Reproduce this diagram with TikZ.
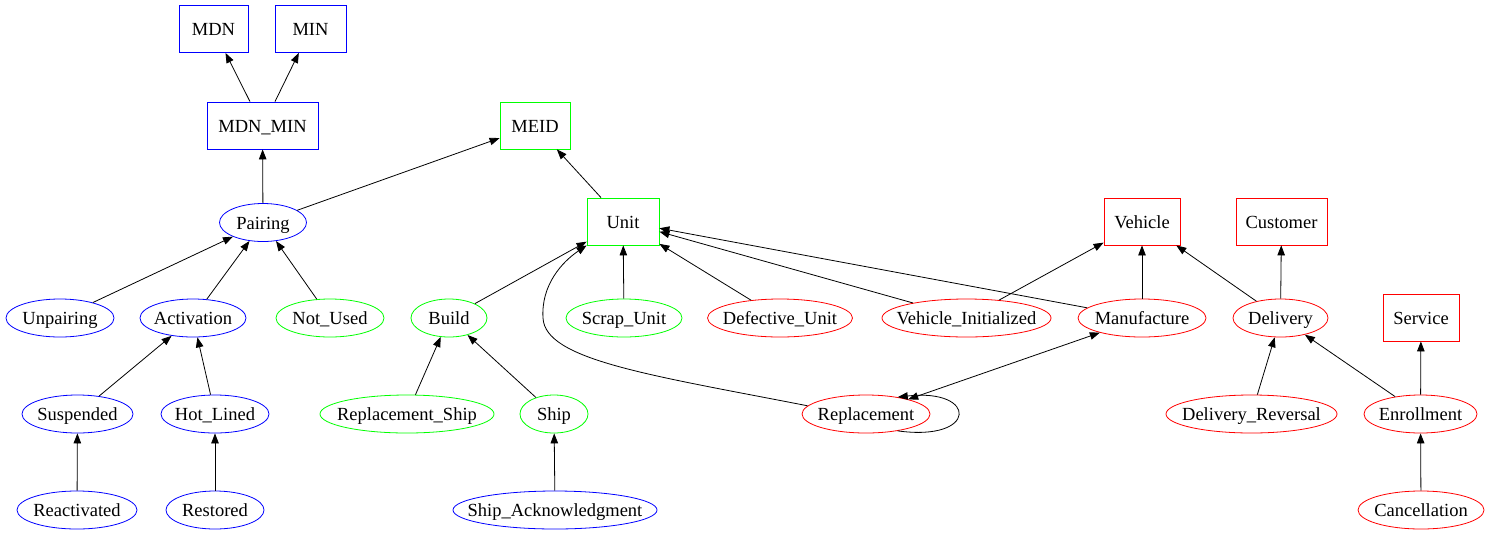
\documentclass[tikz,border=0pt]{standalone}
\usepackage{fontspec}
\setmainfont{Liberation Serif}
\usetikzlibrary{shapes.geometric,arrows.meta}
\definecolor{gvblue}{RGB}{0,0,255}
\definecolor{gvgreen}{RGB}{0,255,0}
\definecolor{gvred}{RGB}{255,0,0}
\newcommand\gvlab[1]{\makebox[0pt]{#1}}
\begin{document}
\begin{tikzpicture}[x=1pt,y=-1pt,
  every node/.style={font=\fontsize{18.5}{22}\selectfont, inner sep=0pt, text=black, text height=15pt, text depth=2pt},
  bx/.style={draw=#1, rectangle, minimum height=47pt, line width=0.8pt},
  el/.style={draw=#1, ellipse, minimum height=38pt, line width=0.8pt},
  arr/.style={-{Triangle[length=10pt,width=7.5pt]}, line width=0.8pt},
  arrboth/.style={{Triangle[length=10pt,width=7.5pt]}-{Triangle[length=10pt,width=7.5pt]}, line width=0.8pt},
]
\useasboundingbox[fill=white] (0,0) rectangle (1491,539);
% boxes
\node[bx=gvblue, minimum width=69pt] (MDN) at (213.5,29) {\gvlab{MDN}};
\node[bx=gvblue, minimum width=71pt] (MIN) at (310.5,29) {\gvlab{MIN}};
\node[bx=gvblue, minimum width=111pt] (MDNMIN) at (262.5,125.5) {\gvlab{MDN\_MIN}};
\node[bx=gvgreen, minimum width=70pt] (MEID) at (535,125.5) {\gvlab{MEID}};
\node[bx=gvgreen, minimum width=72pt] (Unit) at (623,221.5) {\gvlab{Unit}};
\node[bx=gvred, minimum width=76pt] (Vehicle) at (1142,221.5) {\gvlab{Vehicle}};
\node[bx=gvred, minimum width=91pt] (Customer) at (1281.5,221.5) {\gvlab{Customer}};
\node[bx=gvred, minimum width=76pt] (Service) at (1421,317.5) {\gvlab{Service}};
% ellipses
\node[el=gvblue, minimum width=87pt] (Pairing) at (263,222.5) {\gvlab{Pairing}};
\node[el=gvblue, minimum width=108pt] (Unpairing) at (60,318) {\gvlab{Unpairing}};
\node[el=gvblue, minimum width=106pt] (Activation) at (193,318) {\gvlab{Activation}};
\node[el=gvgreen, minimum width=108pt] (NotUsed) at (330,318) {\gvlab{Not\_Used}};
\node[el=gvgreen, minimum width=76pt] (Build) at (449,318) {\gvlab{Build}};
\node[el=gvgreen, minimum width=116pt] (ScrapUnit) at (624,318) {\gvlab{Scrap\_Unit}};
\node[el=gvred, minimum width=145pt] (DefectiveUnit) at (780,318) {\gvlab{Defective\_Unit}};
\node[el=gvred, minimum width=169pt] (VehicleInit) at (966.5,318) {\gvlab{Vehicle\_Initialized}};
\node[el=gvred, minimum width=128pt] (Manufacture) at (1142,318) {\gvlab{Manufacture}};
\node[el=gvred, minimum width=95pt] (Delivery) at (1280.5,318) {\gvlab{Delivery}};
\node[el=gvblue, minimum width=111pt] (Suspended) at (77.5,414) {\gvlab{Suspended}};
\node[el=gvblue, minimum width=108pt] (HotLined) at (215,414) {\gvlab{Hot\_Lined}};
\node[el=gvgreen, minimum width=174pt] (ReplShip) at (407,414) {\gvlab{Replacement\_Ship}};
\node[el=gvgreen, minimum width=68pt] (Ship) at (554,414) {\gvlab{Ship}};
\node[el=gvred, minimum width=128pt] (Replacement) at (866,414) {\gvlab{Replacement}};
\node[el=gvred, minimum width=171pt] (DelRev) at (1251.5,414) {\gvlab{Delivery\_Reversal}};
\node[el=gvred, minimum width=113pt] (Enrollment) at (1420.5,414) {\gvlab{Enrollment}};
\node[el=gvblue, minimum width=120pt] (Reactivated) at (77,510) {\gvlab{Reactivated}};
\node[el=gvblue, minimum width=98pt] (Restored) at (215,510) {\gvlab{Restored}};
\node[el=gvblue, minimum width=204pt] (ShipAck) at (555,510) {\gvlab{Ship\_Acknowledgment}};
\node[el=gvred, minimum width=126pt] (Cancellation) at (1421,510) {\gvlab{Cancellation}};
% edges
\draw[arr] (MDNMIN.north -| 250,0) -- (MDN);
\draw[arr] (MDNMIN.north -| 275,0) -- (MIN);
\draw[arr] (Pairing) -- (MDNMIN);
\draw[arr] (Pairing) -- (MEID);
\draw[arr] (Unit.north -| 601,0) -- (MEID);
\draw[arr] (Unpairing) -- (Pairing);
\draw[arr] (Activation) -- (Pairing);
\draw[arr] (NotUsed) -- (Pairing);
\draw[arr] (Suspended) -- (Activation);
\draw[arr] (HotLined) -- (Activation);
\draw[arr] (Reactivated) -- (Suspended);
\draw[arr] (Restored) -- (HotLined);
\draw[arr] (Build) -- (Unit);
\draw[arr] (ScrapUnit) -- (Unit);
\draw[arr] (DefectiveUnit) -- (Unit);
\draw[arr] (VehicleInit) -- (Unit);
\draw[arr] (Manufacture) -- (Unit);
\draw[arr] (ReplShip) -- (Build);
\draw[arr] (Ship) -- (Build);
\draw[arr] (ShipAck) -- (Ship);
\draw[arr] (Replacement.172) .. controls (650,375) and (545,360) .. (543,318)
  .. controls (541,285) and (562,262) .. (Unit.south west);
\draw[arrboth] (Manufacture) -- (Replacement);
\draw[arr] (Replacement.-28) .. controls (978,442) and (978,388) .. (Replacement.28);
\draw[arr] (VehicleInit) -- (Vehicle);
\draw[arr] (Manufacture) -- (Vehicle);
\draw[arr] (Delivery) -- (Vehicle);
\draw[arr] (Delivery) -- (Customer);
\draw[arr] (DelRev) -- (Delivery);
\draw[arr] (Enrollment) -- (Delivery);
\draw[arr] (Enrollment) -- (Service);
\draw[arr] (Cancellation) -- (Enrollment);
\end{tikzpicture}
\end{document}
